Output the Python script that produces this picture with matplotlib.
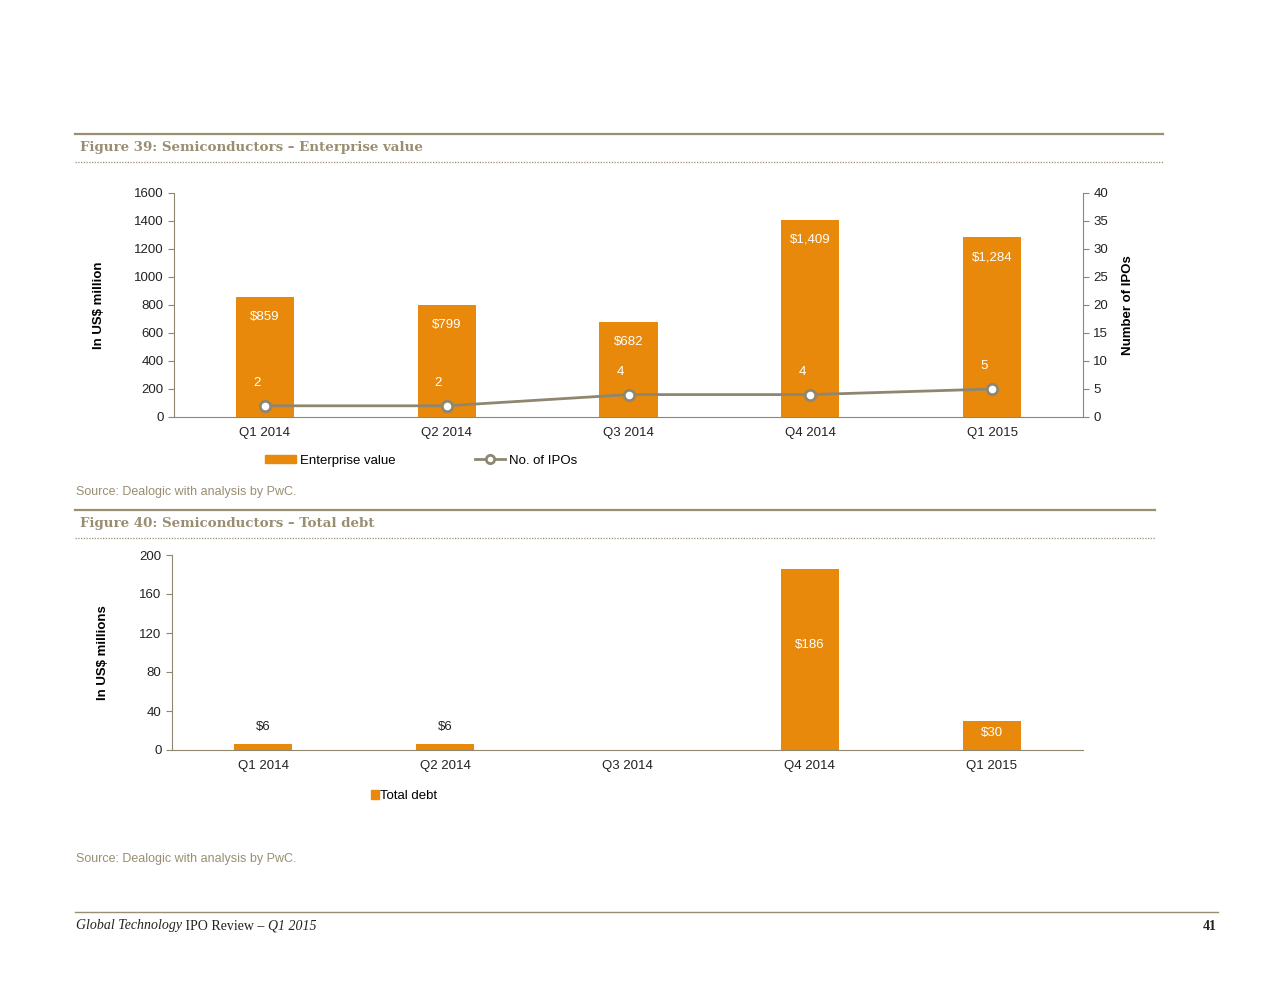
import matplotlib.pyplot as plt
from matplotlib.lines import Line2D
from matplotlib.patches import Patch

quarters = ["Q1 2014", "Q2 2014", "Q3 2014", "Q4 2014", "Q1 2015"]
ev_values = [859, 799, 682, 1409, 1284]
ev_labels = ["$859", "$799", "$682", "$1,409", "$1,284"]
ipo_counts = [2, 2, 4, 4, 5]
debt_values = [6, 6, 0, 186, 30]
debt_labels = ["$6", "$6", "", "$186", "$30"]

ORANGE = "#E8890C"
OLIVE = "#8E8770"
HEAD = "#9A8E72"
TXT = "#222222"

plt.rcParams['font.family'] = ['Liberation Sans', 'DejaVu Sans']
plt.rcParams['font.size'] = 9.5

fig = plt.figure(figsize=(12.8, 9.9), dpi=100)

# page decoration in pixel coordinates
deco = fig.add_axes([0, 0, 1, 1])
deco.set_xlim(0, 1280)
deco.set_ylim(990, 0)
deco.axis('off')


def header(y, x1, title):
    deco.plot([75, x1], [y, y], color=HEAD, lw=1.6)
    deco.plot([75, x1], [y + 28, y + 28], color=HEAD, lw=0.9, ls=(0, (1, 1.2)))
    deco.text(80, y + 14, title, family='DejaVu Serif', weight='bold', color=HEAD,
              fontsize=9.6, va='center', ha='left')


header(134, 1163, "Figure 39: Semiconductors – Enterprise value")
header(510, 1155, "Figure 40: Semiconductors – Total debt")
deco.text(76, 492, "Source: Dealogic with analysis by PwC.", color=HEAD, fontsize=9, va='center')
deco.text(76, 859, "Source: Dealogic with analysis by PwC.", color=HEAD, fontsize=9, va='center')

deco.plot([75, 1218], [912, 912], color=HEAD, lw=1.0)
t1 = deco.text(76, 926, "Global Technology", family='Liberation Serif', style='italic',
               fontsize=10, va='center', color=TXT)
t2 = deco.annotate(" IPO Review – ", xy=(1, 0.5), xycoords=t1, family='Liberation Serif',
                   fontsize=10, va='center', color=TXT)
deco.annotate("Q1 2015", xy=(1, 0.5), xycoords=t2, family='Liberation Serif', style='italic',
              fontsize=10, va='center', color=TXT)
deco.text(1217, 926, "41", family='Liberation Serif', weight='bold', fontsize=10,
          va='center', ha='right', color=TXT)

x = range(len(quarters))

# ---- Figure 39
ax = fig.add_axes([174 / 1280, 1 - 417 / 990, 909 / 1280, 224 / 990])
ax.bar(x, ev_values, width=0.32, color=ORANGE, zorder=2)
ax.set_xlim(-0.5, 4.5)
ax.set_ylim(0, 1600)
ax.set_yticks(range(0, 1601, 200))
ax.set_xticks(list(x))
ax.set_xticklabels(quarters)
for i, v in enumerate(ev_values):
    ax.annotate(ev_labels[i], (i, v), xytext=(0, -14.5), textcoords='offset points',
                ha='center', va='center', color='white', fontsize=9.5)
ax.set_ylabel("In US$ million", weight='bold', fontsize=9.5, labelpad=21)

ax2 = ax.twinx()
ax2.plot(x, ipo_counts, color=OLIVE, lw=2, marker='o', ms=7.5, mfc='white',
         mec=OLIVE, mew=2, zorder=3)
ax2.set_ylim(0, 40)
ax2.set_yticks(range(0, 41, 5))
for i, v in enumerate(ipo_counts):
    ax2.annotate(str(v), (i, v), xytext=(-6, 16.5), textcoords='offset points',
                 ha='center', va='center', color='white', fontsize=9.5)
ax2.set_ylabel("Number of IPOs", weight='bold', fontsize=9.5, labelpad=10)

for a in (ax, ax2):
    a.spines['top'].set_visible(False)
    a.tick_params(length=4, color=OLIVE, labelsize=9.5, labelcolor=TXT)
ax.spines['right'].set_visible(False)
ax2.spines['left'].set_visible(False)
ax2.spines['bottom'].set_visible(False)
ax.spines['left'].set_color(OLIVE)
ax.spines['bottom'].set_color(OLIVE)
ax2.spines['right'].set_color(OLIVE)
ax.tick_params(axis='x', length=0, pad=7)

h1 = [Patch(color=ORANGE), Line2D([], [], color=OLIVE, lw=2, marker='o', ms=6,
                                  mfc='white', mec=OLIVE, mew=2)]
ax.legend(h1, ["Enterprise value", "No. of IPOs"], loc='upper center',
          bbox_to_anchor=(0.272, -0.115), ncol=2, frameon=False, fontsize=9.5,
          handlelength=2.3, handleheight=0.5, columnspacing=6.0, handletextpad=0.3)

# ---- Figure 40
bx = fig.add_axes([172 / 1280, 1 - 750 / 990, 911 / 1280, 195 / 990])
bx.bar(x, debt_values, width=0.32, color=ORANGE, zorder=2)
bx.set_xlim(-0.5, 4.5)
bx.set_ylim(0, 200)
bx.set_yticks(range(0, 201, 40))
bx.set_xticks(list(x))
bx.set_xticklabels(quarters)
for i, v in enumerate(debt_values):
    if not debt_labels[i]:
        continue
    if v < 20:
        bx.annotate(debt_labels[i], (i, v), xytext=(0, 12), textcoords='offset points',
                    ha='center', va='center', color=TXT, fontsize=9.5)
    else:
        bx.text(i, v * 0.58, debt_labels[i], ha='center', va='center',
                color='white', fontsize=9.5)
bx.set_ylabel("In US$ millions", weight='bold', fontsize=9.5, labelpad=22)
bx.spines['top'].set_visible(False)
bx.spines['right'].set_visible(False)
bx.spines['left'].set_color(OLIVE)
bx.spines['bottom'].set_color(OLIVE)
bx.tick_params(length=4, color=OLIVE, labelsize=9.5, labelcolor=TXT)
bx.tick_params(axis='x', length=0, pad=7)
bx.legend([Patch(color=ORANGE)], ["Total debt"], loc='upper center',
          bbox_to_anchor=(0.255, -0.145), frameon=False, fontsize=9.5,
          handlelength=0.6, handleheight=0.6, handletextpad=0.1)

fig.savefig("out.png", dpi=100)
